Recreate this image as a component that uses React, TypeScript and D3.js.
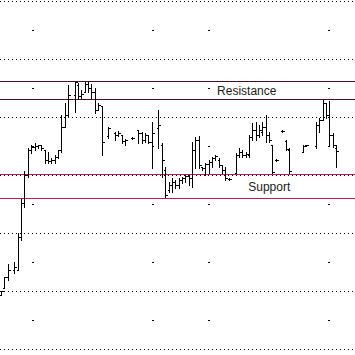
import React from "react";
import * as d3 from "d3";

const days = [0,1,2,4,5,6,7,8,9,10,11,12,13,14,15,16,17,18,19,20,22,23,24,25,26,27,28,29,30,32,34,35,36,37,39,41,42,43,44,45,47,48,49,50,51,52,53,54,55,56,57,58,59,60,61,62,63,64,65,66,67,68,70,71,72,73,74,75,76,77,78,79,80,81,82,84,85,86,90,91,94,95,96,97,98,99,100];
const opens = [146.6,152.6,162.1,168.1,168.1,196.6,225.9,250,271.6,274.1,275,275.9,271.6,262.9,262.1,262.9,265.5,271.6,291.4,301.8,319,327.6,318.1,321.6,328.5,325,321.6,306.1,309.5,283.6,286.2,284.5,284.5,279.3,281.9,288.8,286.2,280.2,284.5,278.5,290.5,275.9,254.3,237.1,241.4,244,241.4,245.7,247.4,249.1,247.4,271.6,280.2,256.9,256,259.5,261.2,264.7,262.9,258.6,254.3,246.6,251.7,267.2,269.8,267.2,267.2,282.8,288.8,284.5,287.1,291.4,284.5,275.9,262.9,287.9,279.3,271.6,269.8,275.9,275,293.1,297.4,312.1,301.8,284.5,273.3];
const highs = [150,162.1,173.3,175,200,229.3,253.5,273.3,275.9,277.6,275.9,275.9,271.6,269.8,264.7,267.2,271.6,301.8,312.1,327.6,330.2,329.3,323.3,330.2,331,328.5,325,312.1,309.5,291.4,287.1,287.9,284.5,281,282.8,288.8,287.1,286.2,284.5,295.7,306.1,277.6,256.9,244,247.4,245.7,247.4,248.3,250,250,278.5,282.8,283.6,256.9,260.4,262.9,265.5,267.2,264.7,258.6,256.9,247.4,269,273.3,271.6,269.8,284.5,294.8,295.7,293.1,295.7,301.8,287.1,275.9,263.8,288.8,280.2,273.3,275.9,275.9,295.7,299.1,314.7,312.1,313.8,286.2,275.9];
const lows = [146.6,152.6,159.5,165.5,168.1,194,222.4,248.3,269,271.6,273.3,271.6,260.4,260.4,260.4,260.4,264.7,269.8,291.4,300,304.3,316.4,316.4,321.6,321.6,316.4,303.5,306.1,267.2,281.9,280.2,283.6,277.6,275.9,281,277.6,277.6,278.5,277.6,256,273.3,248.3,231.1,235.4,235.4,238.8,238.8,243.1,244,241.4,239.7,256,256,254.3,250,251.7,256.9,262.9,256.9,251.7,245.7,245.7,251.7,265.5,265.5,265.5,265.5,280.2,280.2,282.8,284.5,278.5,278.5,251.7,262.1,287.1,271.6,251.7,269.8,275,273.3,287.1,297.4,299.1,275.9,274.1,256.9];
const closes = [150,162.1,168.1,170.7,196.6,225.9,250,271.6,274.1,275,275.9,273.3,262.9,262.1,262.9,265.5,271.6,291.4,301.8,319,330.2,318.1,319.9,328.5,325,321.6,306.1,310.4,278.5,290.5,284.5,286.2,279.3,280.2,281.9,286.2,280.2,284.5,278.5,286.2,293.1,262.9,232.8,241.4,244,241.4,245.7,247.4,249.1,247.4,271.6,280.2,258.6,256,259.5,261.2,264.7,266.4,258.6,254.3,247.4,246.6,267.2,269.8,267.2,268.1,282.8,288.8,284.5,288.8,291.4,284.5,280.2,252.6,262.9,287.9,272.4,253.5,275,275.9,293.1,297.4,312.1,301.8,284.5,275.9,270.7];

const resistance = [331, 315.5];
const support = [251, 230];
const periodMarks = [9.5, 45.5, 62, 98];
const labels = [
  { text: "Resistance", day: 64.5, level: resistance },
  { text: "Support", day: 73.8, level: support },
];

const W = 355;
const H = 355;

export default function App() {
  const x = d3.scaleLinear().domain([0, 100]).range([1, 336]);
  const y = d3.scaleLinear().domain([100, 400]).range([349, 1]);
  const px = (v: number) => Math.round(v) + 0.5;
  const gridTicks = y.ticks(6);
  const midTicks = d3.pairs(gridTicks).map(([a, b]) => (a + b) / 2);
  const bars = days.map((d, i) => ({ d, o: opens[i], h: highs[i], l: lows[i], c: closes[i] }));

  return (
    <svg width={W} height={H} style={{ position: "absolute", left: 0, top: 0, background: "#fff" }}>
      <g shapeRendering="crispEdges">
        {gridTicks.map((t) => (
          <line key={"g" + t} x1={0} x2={W} y1={px(y(t))} y2={px(y(t))} stroke="#000" strokeDasharray="1,3" />
        ))}
        {periodMarks.map((m) =>
          midTicks.map((t) => (
            <line key={"m" + m + "_" + t} x1={Math.round(x(m)) - 1} x2={Math.round(x(m)) + 1} y1={px(y(t))} y2={px(y(t))} stroke="#000" />
          ))
        )}
        {resistance.map((r) => (
          <line key={"r" + r} x1={0} x2={W} y1={px(y(r))} y2={px(y(r))} stroke="#4b0f24" />
        ))}
        {support.map((s) => (
          <line key={"s" + s} x1={0} x2={W} y1={px(y(s))} y2={px(y(s))} stroke="#c2185b" />
        ))}
        {bars.map((b) => {
          const cx = px(x(b.d));
          return (
            <g key={"b" + b.d} stroke="#000">
              <line x1={cx} x2={cx} y1={Math.round(y(b.h))} y2={Math.round(y(b.l)) + 1} />
              <line x1={cx - 2} x2={cx} y1={px(y(b.o))} y2={px(y(b.o))} />
              <line x1={cx} x2={cx + 2} y1={px(y(b.c))} y2={px(y(b.c))} />
            </g>
          );
        })}
      </g>
      {labels.map((lb) => (
        <text
          key={lb.text}
          x={x(lb.day)}
          y={(y(lb.level[0]) + y(lb.level[1])) / 2 + 4.5}
          fontFamily="'Liberation Sans', Arial, sans-serif"
          fontSize={12}
          fill="#222"
        >
          {lb.text}
        </text>
      ))}
    </svg>
  );
}
